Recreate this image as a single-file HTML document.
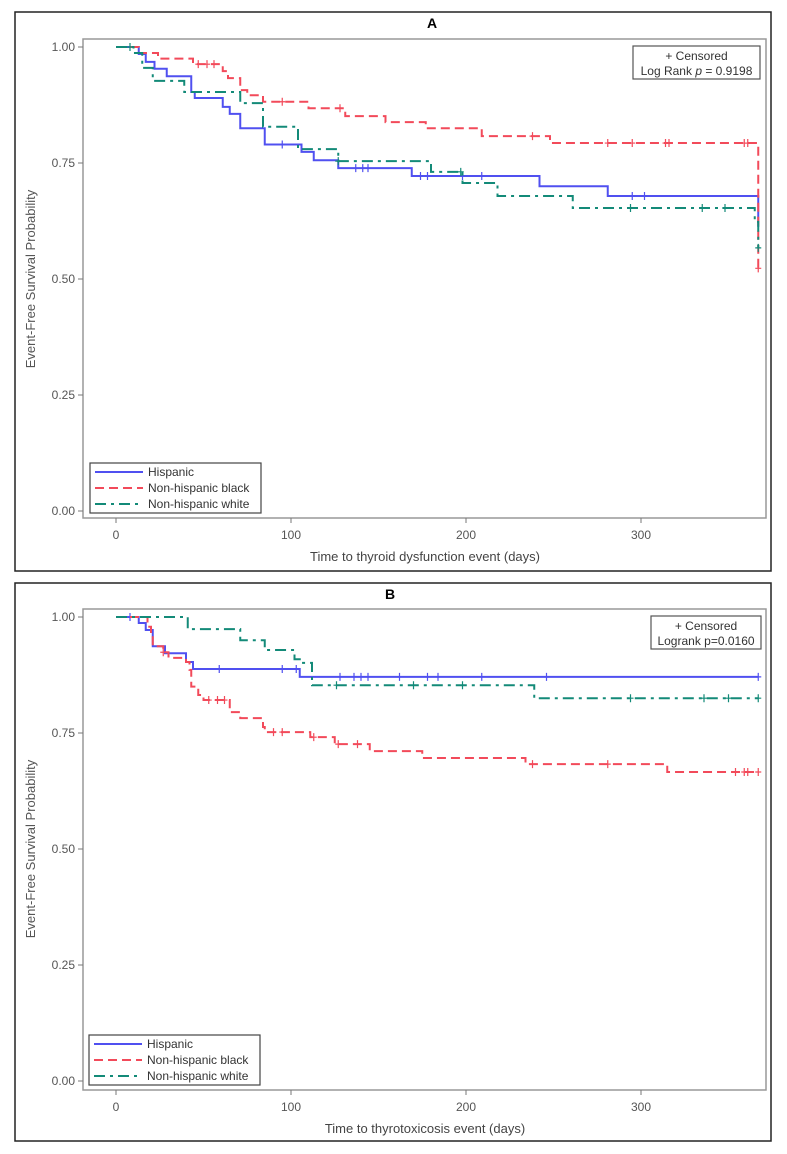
<!DOCTYPE html>
<html><head><meta charset="utf-8">
<style>
html,body{margin:0;padding:0;background:#fff;}
svg{display:block;font-family:"Liberation Sans Narrow","Liberation Sans",sans-serif;}
</style></head>
<body>
<svg id="fig" width="787" height="1154" viewBox="0 0 787 1154"></svg>
<script>
// ---------- Panel A data ----------
const aHispT = [13,17,22,29,43,45,61,65,71,85,106,113,127,169,242,281,367];
const aHispS = [0.985,0.968,0.953,0.937,0.903,0.89,0.871,0.856,0.825,0.79,0.774,0.756,0.739,0.722,0.70,0.679,0.612];
const aHispC = [95,137,141,144,174,178,198,209,295,302];
const aBlkT = [13,24,44,61,64,71,75,84,110,131,154,177,209,248,367];
const aBlkS = [0.987,0.975,0.963,0.948,0.933,0.907,0.896,0.882,0.868,0.851,0.838,0.825,0.808,0.793,0.523];
const aBlkC = [47,52,56,95,128,238,281,295,314,316,359,361,367];
const aWhtT = [10,15,21,39,71,84,104,127,180,198,218,261,365,367];
const aWhtS = [0.987,0.955,0.927,0.903,0.879,0.828,0.78,0.754,0.731,0.707,0.679,0.653,0.623,0.567];
const aWhtC = [8,127,197,294,335,348,367];
// ---------- Panel B data ----------
const bHispT = [13,17,21,28,40,44,105];
const bHispS = [0.987,0.972,0.937,0.922,0.903,0.888,0.871];
const bHispC = [8,59,95,103,128,136,140,144,162,178,184,209,246,367];
const bBlkT = [18,20,21,27,30,40,42,43,47,50,65,71,84,85,111,125,145,175,234,315];
const bBlkS = [0.979,0.961,0.937,0.924,0.912,0.903,0.886,0.85,0.832,0.821,0.795,0.782,0.763,0.752,0.741,0.726,0.711,0.696,0.683,0.666];
const bBlkC = [27,53,58,62,90,95,113,127,138,238,281,354,359,361,367];
const bWhtT = [41,71,85,102,106,112,239];
const bWhtS = [0.974,0.95,0.929,0.909,0.901,0.853,0.825];
const bWhtC = [126,170,198,294,336,350,367];
const yTicks = [0,0.25,0.5,0.75,1.0];
const yTickLabels = ["0.00","0.25","0.50","0.75","1.00"];
const xTicks = [0,100,200,300];

const NS="http://www.w3.org/2000/svg";
const svg=document.getElementById('fig');
function mk(tag,attrs,parent){const e=document.createElementNS(NS,tag);for(const k in attrs)e.setAttribute(k,attrs[k]);(parent||svg).appendChild(e);return e;}
const COL={hisp:"#5050f0",blk:"#f24a5a",wht:"#138a78"};
const DASH={hisp:"",blk:"9,5",wht:"11,5,3,5"};

function panel(p){
  const g=mk('g',{});
  
  
  const xs=d=>116+d*1.75;
  const ys=v=>p.y0-(p.y0-p.y1)*v;
  const outer=mk('rect',{x:p.ox,y:p.oy,width:p.ow,height:p.oh,fill:'none',stroke:'#222','stroke-width':1.5},g);
  
  
  const title=mk('text',{x:p.tx,y:p.ty,'font-size':14,'font-weight':'bold','text-anchor':'middle',fill:'#000','font-family':'Liberation Sans, sans-serif'},g);
  title.textContent=p.title;
  
  
  const frame=mk('rect',{x:83,y:p.ft,width:683,height:p.fb-p.ft,fill:'none',stroke:'#999','stroke-width':1.5},g);
  
  
  yTicks.forEach((v,i)=>{
    const t=mk('line',{x1:78,x2:83,y1:ys(v),y2:ys(v),stroke:'#777','stroke-width':1},g);
    
    
    const l=mk('text',{x:75,y:ys(v)+4,'font-size':12,'text-anchor':'end',fill:'#555'},g);
    l.textContent=yTickLabels[i];
    
    
  });
  xTicks.forEach(d=>{
    const t=mk('line',{x1:xs(d),x2:xs(d),y1:p.fb,y2:p.fb+5,stroke:'#777','stroke-width':1},g);
    
    
    const l=mk('text',{x:xs(d),y:p.fb+21,'font-size':12,'text-anchor':'middle',fill:'#555'},g);
    l.textContent=String(d);
    
    
  });
  const xt=mk('text',{x:425,y:p.xty,'font-size':13,'text-anchor':'middle',fill:'#444'},g);
  xt.textContent=p.xtitle;
  
  
  const yc=(p.y0+p.y1)/2;
  const yt=mk('text',{x:0,y:0,'font-size':13,'text-anchor':'middle',fill:'#555',transform:`translate(35,${yc}) rotate(-90)`},g);
  yt.textContent="Event-Free Survival Probability";
  
  
  // series
  p.series.forEach(s=>{
    let d=`M${xs(0)},${ys(1)}`;let cur=1;
    s.t.forEach((t,i)=>{d+=` H${xs(t)} V${ys(s.s[i])}`;cur=s.s[i];});
    const last=s.t[s.t.length-1];
    d+=` H${xs(Math.max(last,p.end))}`;
    const path=mk('path',{d:d,fill:'none',stroke:COL[s.k],'stroke-width':2,'stroke-dasharray':DASH[s.k]},g);
    
    
    s.c.forEach(c=>{
      let v=1;s.t.forEach((t,i)=>{if(t<=c)v=s.s[i];});
      const m=mk('path',{d:`M${xs(c)-3},${ys(v)} H${xs(c)+3} M${xs(c)},${ys(v)-4} V${ys(v)+4}`,stroke:COL[s.k],'stroke-width':1.2,fill:'none'},g);
      
      
    });
  });
  // censor/pvalue box
  const cb=mk('rect',{x:p.cbx,y:p.cby,width:p.cbw,height:33,fill:'#fff',stroke:'#555','stroke-width':1.2},g);
  
  
  const c1=mk('text',{x:p.cbx+p.cbw/2,y:p.cby+14,'font-size':12,'text-anchor':'middle',fill:'#333'},g);
  c1.textContent="+ Censored";
  
  
  const c2=mk('text',{x:p.cbx+p.cbw/2,y:p.cby+29,'font-size':12,'text-anchor':'middle',fill:'#333'},g);
  c2.innerHTML=p.ptext;
  
  
  // legend
  const lb=mk('rect',{x:p.lx,y:p.ly,width:171,height:50,fill:'#fff',stroke:'#444','stroke-width':1.2},g);
  
  
  [["hisp","Hispanic"],["blk","Non-hispanic black"],["wht","Non-hispanic white"]].forEach((e,i)=>{
    const yy=p.ly+9+i*16;
    const ln=mk('line',{x1:p.lx+5,x2:p.lx+53,y1:yy,y2:yy,stroke:COL[e[0]],'stroke-width':2,'stroke-dasharray':DASH[e[0]]},g);
    
    
    const tx=mk('text',{x:p.lx+58,y:yy+4,'font-size':12,fill:'#333'},g);
    tx.textContent=e[1];
    
    
  });
}

panel({name:'panel-a',title:'A',ox:15,oy:12,ow:756,oh:559,tx:432,ty:28,ft:39,fb:518,y1:47,y0:511,
  xty:561,xtitle:'Time to thyroid dysfunction event (days)',end:367,
  cbx:633,cby:46,cbw:127,ptext:'Log Rank <tspan font-style="italic">p</tspan> = 0.9198',lx:90,ly:463,
  series:[{k:'hisp',t:aHispT,s:aHispS,c:aHispC},{k:'blk',t:aBlkT,s:aBlkS,c:aBlkC},{k:'wht',t:aWhtT,s:aWhtS,c:aWhtC}]});
panel({name:'panel-b',title:'B',ox:15,oy:583,ow:756,oh:558,tx:390,ty:599,ft:609,fb:1090,y1:617,y0:1081,
  xty:1133,xtitle:'Time to thyrotoxicosis event (days)',end:367,
  cbx:651,cby:616,cbw:110,ptext:'Logrank p=0.0160',lx:89,ly:1035,
  series:[{k:'hisp',t:bHispT,s:bHispS,c:bHispC},{k:'blk',t:bBlkT,s:bBlkS,c:bBlkC},{k:'wht',t:bWhtT,s:bWhtS,c:bWhtC}]});
</script>
</body></html>
